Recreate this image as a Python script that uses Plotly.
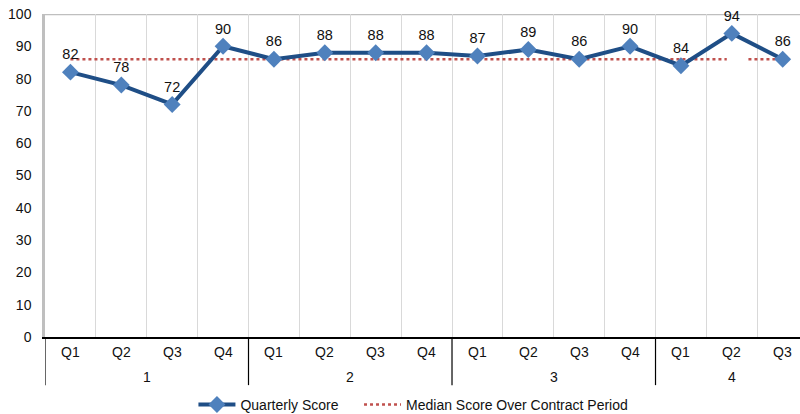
import plotly.graph_objects as go

# Contract years and quarters
years = ["1", "1", "1", "1", "2", "2", "2", "2", "3", "3", "3", "3", "4", "4", "4"]
quarters = ["Q1", "Q2", "Q3", "Q4", "Q1", "Q2", "Q3", "Q4",
            "Q1", "Q2", "Q3", "Q4", "Q1", "Q2", "Q3"]

# Quarterly scores and the median over the contract period
quarterly_score = [82, 78, 72, 90, 86, 88, 88, 88, 87, 89, 86, 90, 84, 94, 86]
median_score = [86] * len(quarterly_score)

FONT = "Liberation Sans, Arial, sans-serif"
TXT = "#111111"
NBSP = "\u00a0"

idx = list(range(len(quarters)))

fig = go.Figure()

fig.add_trace(go.Scatter(
    x=idx, y=median_score,
    mode="lines",
    name="Median Score Over Contract Period",
    line=dict(color="#C0504D", width=2.5, dash="dot"),
))

fig.add_trace(go.Scatter(
    x=idx, y=quarterly_score,
    mode="lines+markers+text",
    name="Quarterly Score" + NBSP * 4,
    line=dict(color="#1F4E86", width=4),
    marker=dict(symbol="diamond", size=13, color="#4F81BD"),
    text=[str(v) for v in quarterly_score],
    textposition="top center",
    textfont=dict(family=FONT, size=14.5, color=TXT),
    cliponaxis=False,
))

# the label box beside the Q2 peak of year 4 breaks the median line
fig.add_shape(type="rect", xref="paper", yref="y",
              x0=0.903, x1=0.9305, y0=85.0, y1=87.0,
              fillcolor="white", line=dict(width=0), layer="above")

# top border of the plot area
fig.add_shape(type="line", xref="paper", yref="y",
              x0=0, x1=1, y0=100, y1=100,
              line=dict(color="#BFBFBF", width=2.5), layer="below")

# two-level category axis: quarter row, year row and year dividers
for i, q in zip(idx, quarters):
    fig.add_annotation(x=i, y=0, xref="x", yref="paper", text=q,
                       showarrow=False, yanchor="middle", yshift=-15,
                       font=dict(family=FONT, size=14, color=TXT))

group_names = []
for y in years:
    if y not in group_names:
        group_names.append(y)
for g in group_names:
    members = [i for i, y in zip(idx, years) if y == g]
    lo, hi = min(members) - 0.5, max(members) + 0.5
    fig.add_annotation(x=(lo + hi) / 2, y=0, xref="x", yref="paper", text=g,
                       showarrow=False, yanchor="middle", yshift=-40,
                       font=dict(family=FONT, size=14, color=TXT))
    fig.add_shape(type="line", xref="x", yref="paper",
                  x0=lo, x1=lo, y0=0, y1=-0.149,
                  line=dict(color="#000000", width=1.2))

fig.update_layout(
    width=800, height=414,
    margin=dict(l=45, r=0, t=14, b=77, autoexpand=False),
    paper_bgcolor="white", plot_bgcolor="white",
    font=dict(family=FONT, size=14, color=TXT),
    showlegend=True,
    legend=dict(orientation="h", x=0.488, xanchor="center",
                yref="container", y=0.022, yanchor="middle",
                itemwidth=37,
                font=dict(family=FONT, size=14, color=TXT),
                traceorder="reversed"),
)

fig.update_xaxes(
    range=[-0.5, 14.34], automargin=False,
    tickvals=[i + 0.5 for i in idx], showticklabels=False,
    showgrid=True, gridcolor="#D9D9D9", gridwidth=1,
    ticks="", zeroline=False,
    showline=True, linecolor="#000000", linewidth=1.5,
)

fig.update_yaxes(
    range=[0, 100], dtick=10, automargin=False,
    showgrid=False, zeroline=False,
    showline=True, linecolor="#BFBFBF", linewidth=2.5,
    ticks="", ticklabelstandoff=8,
    tickfont=dict(family=FONT, size=14, color=TXT),
)

fig.write_html("out.html")
